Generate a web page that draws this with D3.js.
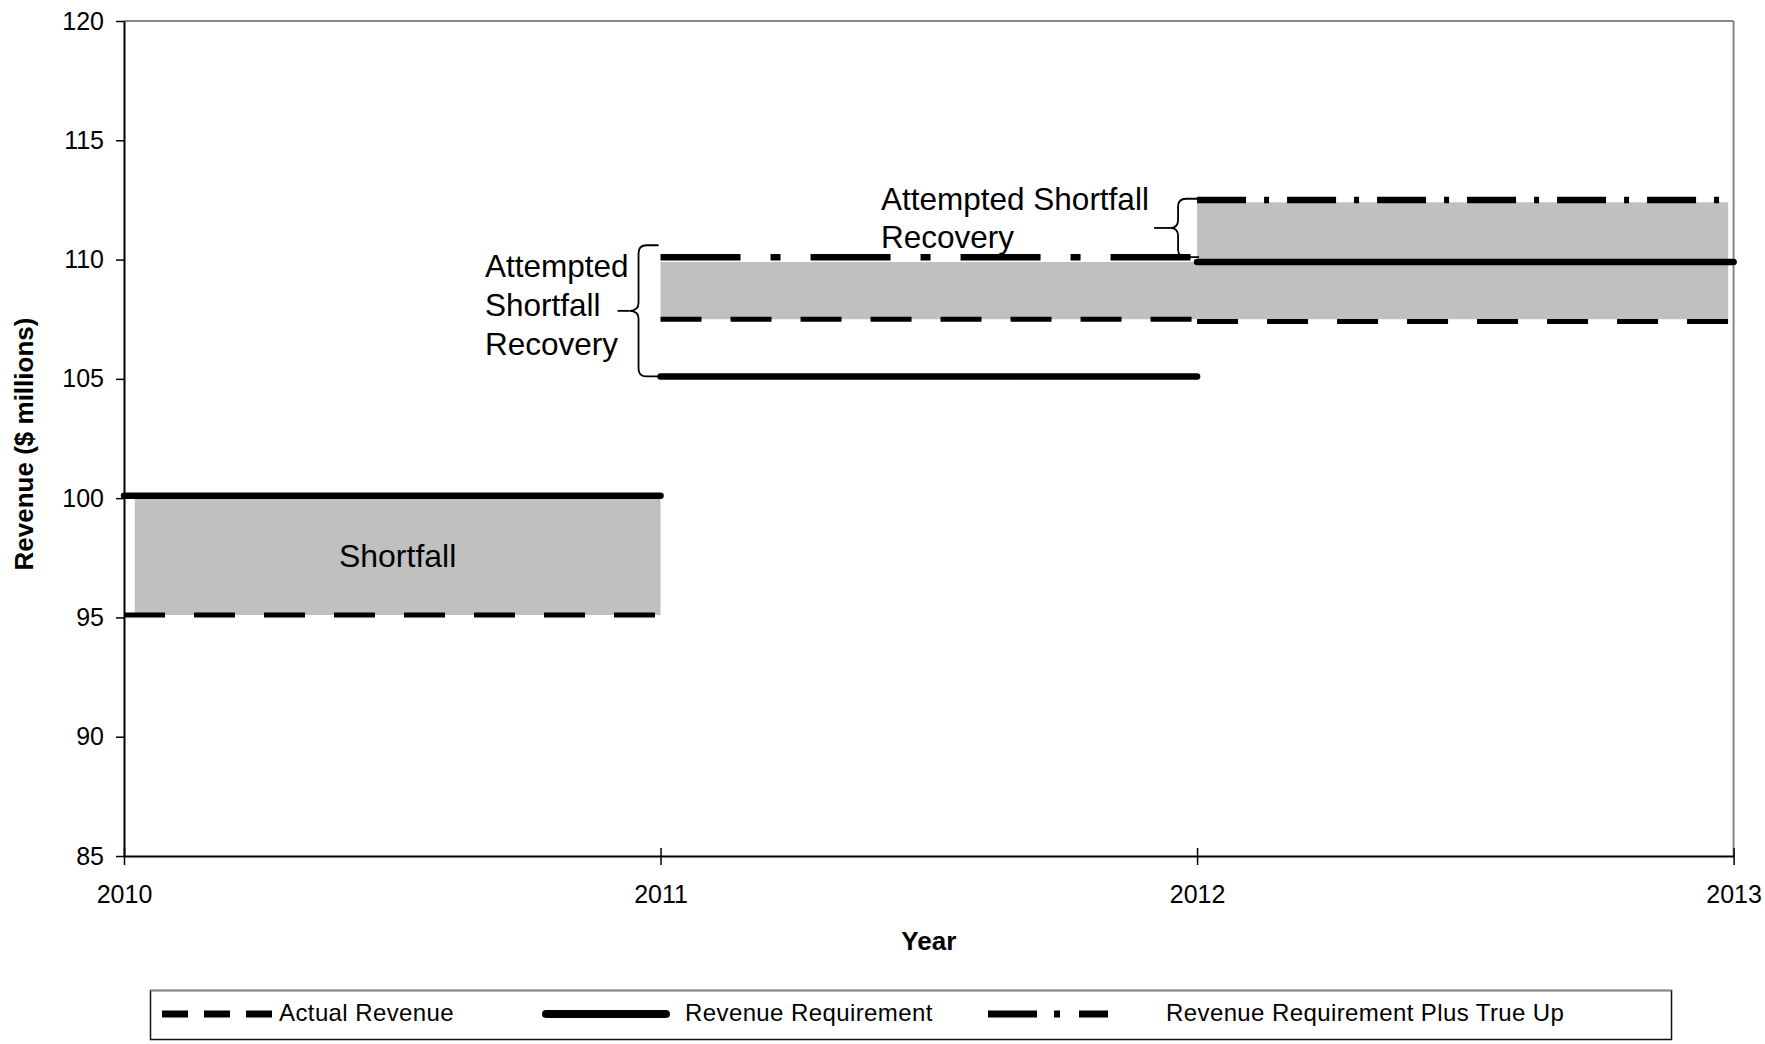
<!DOCTYPE html>
<html>
<head>
<meta charset="utf-8">
<script src="https://cdn.jsdelivr.net/npm/d3@7"></script>
<style>
  html, body { margin: 0; padding: 0; background: #fff; }
  svg { display: block; font-family: "Liberation Sans", Arial, Helvetica, sans-serif; }
</style>
</head>
<body>
<svg id="chart" width="1765" height="1044"></svg>
<script>
// Period boundaries; period i runs from years[i] to years[i + 1]
const years = [2010, 2011, 2012, 2013];

// Revenue per period, $ millions
const actualRevenue = [95.1, 107.5, 107.4];
const revenueRequirement = [100.1, 105.1, 109.9];

// The true-up applies from the second period on
const trueUpPeriods = [1, 2];
const requirementPlusTrueUp = [110.1, 112.5];

// Shaded areas: the 2010 shortfall and the attempted recoveries
const bandLabels = ["Shortfall", "", ""];
const bandStart = [2010.02, 2011, 2012];
const bandEnd = [2011, 2012, 2012.99];
const bandLow = [95.1, 107.5, 107.5];
const bandHigh = [100.1, 109.9, 112.4];

// Brace annotations
const recoveryNoteLeft = ["Attempted", "Shortfall", "Recovery"];
const recoveryNoteTop = ["Attempted Shortfall", "Recovery"];

const yTicks = [85, 90, 95, 100, 105, 110, 115, 120];
const xTicks = [2010, 2011, 2012, 2013];
const legendLabels = ["Actual Revenue", "Revenue Requirement", "Revenue Requirement Plus True Up"];

const svg = d3.select("#chart");

const plot = { left: 124, right: 1733.6, top: 21, bottom: 856 };

const x = d3.scaleLinear().domain([2010, 2013]).range([plot.left, plot.right]);
const y = d3.scaleLinear().domain([85, 120]).range([plot.bottom, plot.top]);

// Series line styles
const styles = {
  actual:   { width: 5,   dash: "41,29",          cap: "butt" },
  req:      { width: 6.5, dash: null,             cap: "round" },
  trueUp1:  { width: 6.5, dash: "80,30,10,30",    cap: "butt" },
  trueUp2:  { width: 6.5, dash: "49,18,5,18",     cap: "butt" }
};

// Plot frame (top and right edges in grey)
svg.append("line")
  .attr("x1", plot.left).attr("x2", plot.right)
  .attr("y1", plot.top).attr("y2", plot.top)
  .attr("stroke", "#868686").attr("stroke-width", 2);
svg.append("line")
  .attr("x1", plot.right).attr("x2", plot.right)
  .attr("y1", plot.top).attr("y2", plot.bottom)
  .attr("stroke", "#868686").attr("stroke-width", 2);

// Shaded bands
svg.append("g").selectAll("rect")
  .data(bandStart.map((s, i) => ({ s, e: bandEnd[i], lo: bandLow[i], hi: bandHigh[i] })))
  .join("rect")
  .attr("x", d => x(d.s))
  .attr("width", d => x(d.e) - x(d.s))
  .attr("y", d => y(d.hi))
  .attr("height", d => y(d.lo) - y(d.hi))
  .attr("fill", "#c0c0c0");

// Band labels
svg.append("g").selectAll("text")
  .data(bandLabels.map((t, i) => ({ t, i })).filter(d => d.t))
  .join("text")
  .attr("x", d => (x(bandStart[d.i]) + x(bandEnd[d.i])) / 2)
  .attr("y", d => (y(bandLow[d.i]) + y(bandHigh[d.i])) / 2)
  .attr("dy", "0.35em")
  .attr("text-anchor", "middle")
  .attr("font-size", 32)
  .attr("fill", "#000")
  .text(d => d.t);

// Axes
const yAxis = d3.axisLeft(y).tickValues(yTicks).tickSize(8).tickSizeOuter(0).tickPadding(12).tickFormat(d3.format("d"));
const gy = svg.append("g").attr("transform", `translate(${plot.left},0)`).call(yAxis);
gy.select(".domain").attr("stroke", "#000").attr("stroke-width", 2);
gy.selectAll(".tick line").attr("stroke", "#000").attr("stroke-width", 1.5);
gy.selectAll(".tick text").attr("font-size", 25).attr("fill", "#000")
  .attr("font-family", "'Liberation Sans', Arial, sans-serif");

const xAxis = d3.axisBottom(x).tickValues(xTicks).tickSize(9).tickSizeOuter(0).tickPadding(20).tickFormat(d3.format("d"));
const gx = svg.append("g").attr("transform", `translate(0,${plot.bottom})`).call(xAxis);
gx.select(".domain").attr("stroke", "#000").attr("stroke-width", 2);
gx.selectAll(".tick line").attr("y1", -8).attr("stroke", "#000").attr("stroke-width", 1.5);
gx.selectAll(".tick text").attr("font-size", 25).attr("fill", "#000")
  .attr("font-family", "'Liberation Sans', Arial, sans-serif");

// Axis titles
svg.append("text")
  .attr("transform", `translate(33,${444}) rotate(-90)`)
  .attr("text-anchor", "middle")
  .attr("font-size", 26).attr("font-weight", "bold")
  .text("Revenue ($ millions)");
svg.append("text")
  .attr("x", (plot.left + plot.right) / 2).attr("y", 950)
  .attr("text-anchor", "middle")
  .attr("font-size", 26).attr("font-weight", "bold")
  .text("Year");

// Step segments
const line = d3.line().x(d => x(d[0])).y(d => y(d[1]));
function drawSegment(p, v, st) {
  svg.append("path")
    .attr("d", line([[years[p], v], [years[p + 1], v]]))
    .attr("fill", "none")
    .attr("stroke", "#000")
    .attr("stroke-width", st.width)
    .attr("stroke-linecap", st.cap)
    .attr("stroke-dasharray", st.dash);
}
actualRevenue.forEach((v, p) => drawSegment(p, v, styles.actual));
trueUpPeriods.forEach((p, i) => drawSegment(p, requirementPlusTrueUp[i], i === 0 ? styles.trueUp1 : styles.trueUp2));
revenueRequirement.forEach((v, p) => drawSegment(p, v, styles.req));

// Curly brace pointing left
function brace(xr, xm, xt, y0, y1) {
  const ym = (y0 + y1) / 2, r = 8;
  return `M${xr},${y0} L${xm + r},${y0} Q${xm},${y0} ${xm},${y0 + r} L${xm},${ym - r} ` +
         `Q${xm},${ym} ${xt},${ym} Q${xm},${ym} ${xm},${ym + r} L${xm},${y1 - r} ` +
         `Q${xm},${y1} ${xm + r},${y1} L${xr},${y1}`;
}
const braceG = svg.append("g").attr("fill", "none").attr("stroke", "#000").attr("stroke-width", 1.8);
// 2011 recovery brace
const b1x = x(2011);
braceG.append("path").attr("d", brace(b1x - 2, b1x - 22, b1x - 31, y(110.6), y(105.1)));
braceG.append("line").attr("x1", b1x - 43).attr("x2", b1x - 31)
  .attr("y1", (y(110.6) + y(105.1)) / 2).attr("y2", (y(110.6) + y(105.1)) / 2);
// 2012 recovery brace
const b2x = x(2012);
braceG.append("path").attr("d", brace(b2x + 2, b2x - 19, b2x - 27, y(112.55), y(110.1)));
braceG.append("line").attr("x1", b2x - 43).attr("x2", b2x - 27)
  .attr("y1", (y(112.55) + y(110.1)) / 2).attr("y2", (y(112.55) + y(110.1)) / 2);

// Brace notes
svg.append("g").selectAll("text").data(recoveryNoteLeft).join("text")
  .attr("x", 485).attr("y", (d, i) => 277 + i * 39)
  .attr("font-size", 31.5).text(d => d);
svg.append("g").selectAll("text").data(recoveryNoteTop).join("text")
  .attr("x", 881).attr("y", (d, i) => 210 + i * 38)
  .attr("font-size", 31.5).text(d => d);

// Legend
const lg = svg.append("g");
lg.append("rect")
  .attr("x", 150.5).attr("y", 990.5).attr("width", 1521).attr("height", 49)
  .attr("fill", "#fff").attr("stroke", "#111").attr("stroke-width", 1.5);
lg.append("line").attr("x1", 150.5).attr("x2", 1671.5).attr("y1", 990.5).attr("y2", 990.5)
  .attr("stroke", "#8a8a8a").attr("stroke-width", 1.5);

const legendSamples = [
  { x1: 162, x2: 272, dash: "26,16", width: 7, cap: "butt", tx: 279 },
  { x1: 546, x2: 666, dash: null, width: 8, cap: "round", tx: 685 },
  { x1: 988, x2: 1108, dash: "49,17,6,19", width: 7, cap: "butt", tx: 1166 }
];
legendSamples.forEach((s, i) => {
  lg.append("line")
    .attr("x1", s.x1).attr("x2", s.x2).attr("y1", 1014).attr("y2", 1014)
    .attr("stroke", "#000").attr("stroke-width", s.width)
    .attr("stroke-linecap", s.cap).attr("stroke-dasharray", s.dash);
  lg.append("text")
    .attr("x", s.tx).attr("y", 1021)
    .attr("font-size", 24).attr("fill", "#000")
    .attr("letter-spacing", 0.4)
    .text(legendLabels[i]);
});
</script>
</body>
</html>
